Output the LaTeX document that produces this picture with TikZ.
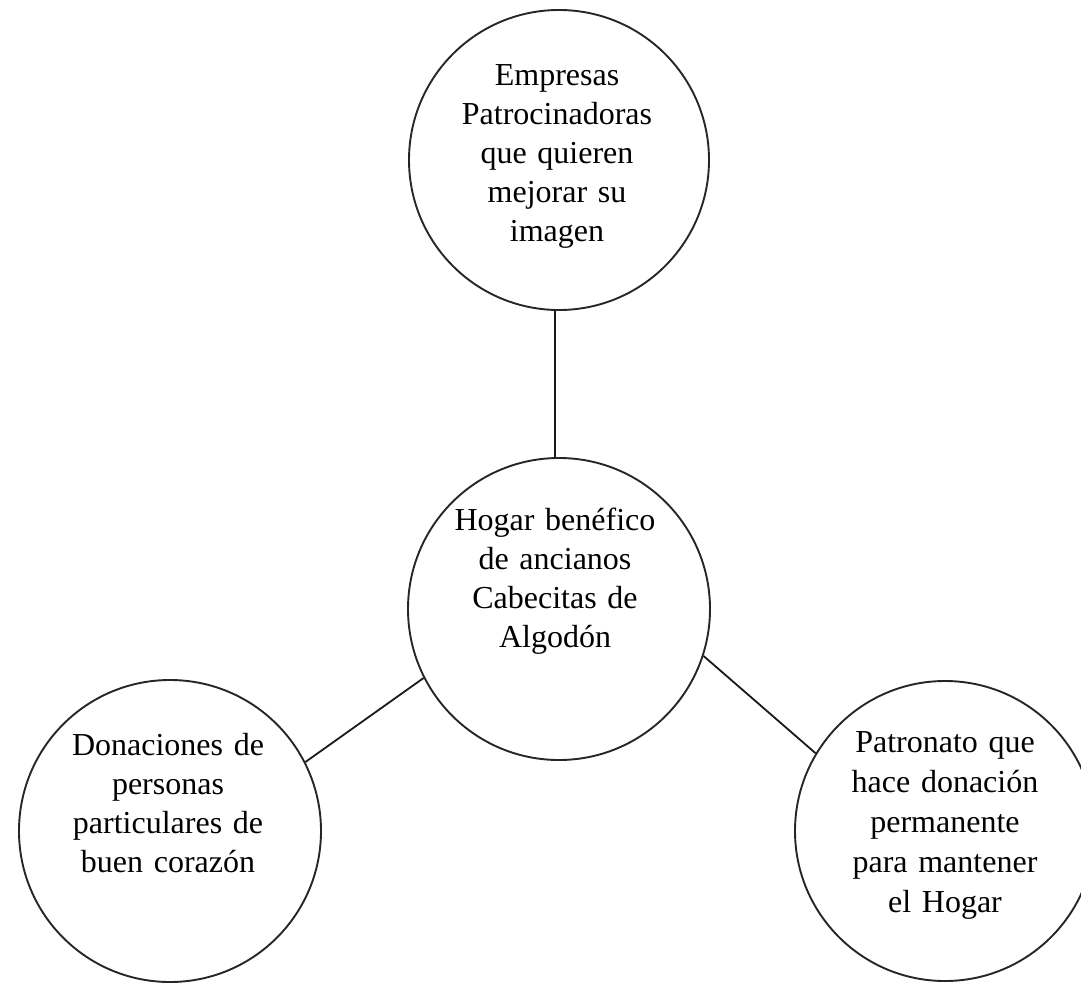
\documentclass[tikz,border=0pt]{standalone}
\usepackage{fontspec}
\setmainfont{Liberation Serif}
\begin{document}
\begin{tikzpicture}[x=1pt,y=-1pt,
  circ/.style={draw=black!85, line width=1.9pt, circle, minimum size=300pt, inner sep=0pt},
  txt/.style={text width=300pt, align=center, anchor=base, inner sep=0pt,
    font=\fontsize{32}{39}\selectfont},
  conn/.style={draw=black!90, line width=1.8pt}]
\useasboundingbox (0,0) rectangle (1081,982);
\node[circ] (t) at (559,160) {};
\node[circ, minimum size=302pt] (c) at (559,609) {};
\node[circ, minimum size=302pt] (l) at (170,831) {};
\node[circ] (r) at (945,831) {};
\node[txt] (tt) at (557,85) {Empresas\\Patrocinadoras\\que quieren\\mejorar su\\imagen};
\node[txt] (ct) at (555,530) {Hogar benéfico\\de ancianos\\Cabecitas de\\Algodón};
\node[txt] (lt) at (168,755) {Donaciones de\\personas\\particulares de\\buen corazón};
\node[txt, font=\fontsize{32}{40}\selectfont] (rt) at (945,752) {Patronato que\\hace donación\\permanente\\para mantener\\el Hogar};
\draw[conn] ([xshift=-4pt]t.south) -- ([xshift=-4pt]t.south |- c.north);
\draw[conn] (c.207) -- (l.27);
\draw[conn] (c.-18) -- (r.149);
\end{tikzpicture}
\end{document}
